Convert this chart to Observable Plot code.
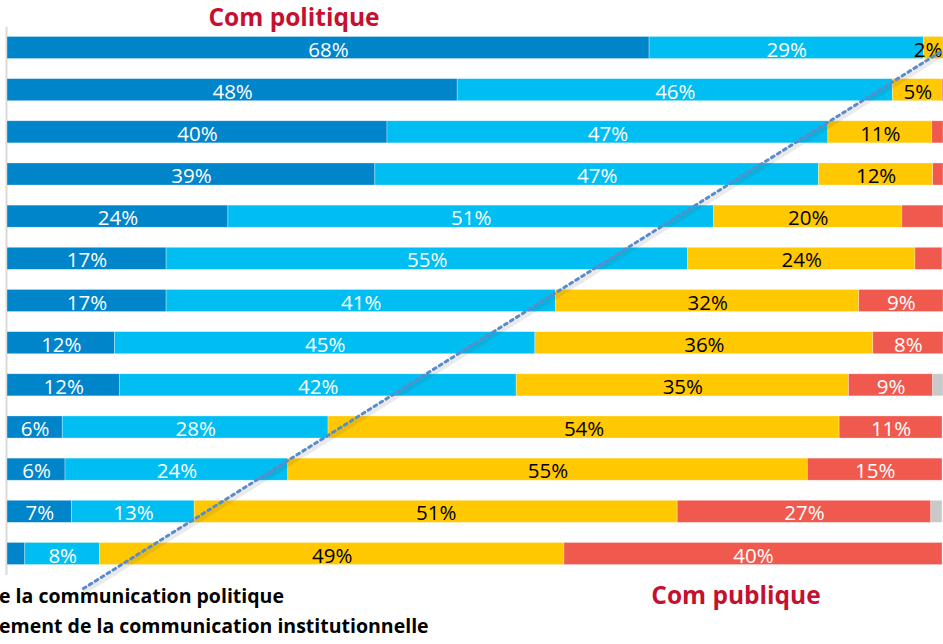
<!DOCTYPE html>
<html><head><meta charset="utf-8">
<script src="https://cdn.jsdelivr.net/npm/d3@7"></script>
<script src="https://cdn.jsdelivr.net/npm/@observablehq/plot@0.6"></script>
<style>
body{margin:0;background:#fff}
#wrap{position:relative;width:943px;height:644px;overflow:hidden;font-family:"Open Sans",Lato,sans-serif}
#chart{position:absolute;left:0;top:0}
#chart svg{overflow:hidden}
.t{position:absolute;white-space:nowrap;font-weight:bold}
.red{color:#C5102F;font-size:24.5px;line-height:24px}
.leg{color:#000;font-size:19.5px;line-height:19px}
</style></head><body>
<div id="wrap">
<div id="chart"></div>
<div class="t red" style="left:0;width:588px;top:5px;text-align:center">Com politique</div>
<div class="t red" style="left:536px;width:400px;top:583px;text-align:center">Com publique</div>
<div class="t leg" style="left:-1px;top:586px">e la communication politique</div>
<div class="t leg" style="left:-1px;top:616px">ement de la communication institutionnelle</div>
</div>
<script>
// segment colours (dark blue, light blue, yellow, red, grey)
const colors = ["#0084CA", "#00BEF2", "#FFC800", "#F05A4E", "#C9C9C9"];
const textColors = ["white", "white", "black", "white", "black"];

// values (% of each bar), rows top to bottom
const s1 = [68.6, 48.1, 40.6, 39.3, 23.6, 17.0, 17.0, 11.5, 12.0, 5.9, 6.2, 6.9, 1.9];
const s2 = [29.3, 46.5, 47.1, 47.4, 51.9, 55.7, 41.6, 44.9, 42.4, 28.4, 23.8, 13.1, 8.0];
const s3 = [2.1, 5.3, 11.1, 12.2, 20.1, 24.3, 32.4, 36.1, 35.5, 54.6, 55.5, 51.6, 49.6];
const s4 = [0, 0.1, 1.2, 1.1, 4.4, 2.9, 9.0, 7.5, 9.0, 11.0, 14.4, 27.1, 40.4];
const s5 = [0, 0, 0, 0, 0, 0.1, 0, 0, 1.1, 0, 0, 1.2, 0];

// printed labels
const l1 = ["68%","48%","40%","39%","24%","17%","17%","12%","12%","6%","6%","7%",""];
const l2 = ["29%","46%","47%","47%","51%","55%","41%","45%","42%","28%","24%","13%","8%"];
const l3 = ["2%","5%","11%","12%","20%","24%","32%","36%","35%","54%","55%","51%","49%"];
const l4 = ["","","","","","","9%","8%","9%","11%","15%","27%","40%"];
const l5 = ["","","","","","","","","","","","",""];

// dotted diagonal (x in %, y in row index)
const diagonal = [{x: 8.1, y: 12.82}, {x: 99.9, y: 0.06}];

const seriesVals = [s1, s2, s3, s4, s5];
const seriesLabels = [l1, l2, l3, l4, l5];
const segs = [];
for (let r = 0; r < s1.length; r++) {
  let acc = 0;
  for (let k = 0; k < seriesVals.length; k++) {
    const v = seriesVals[k][r];
    segs.push({row: r, x1: acc, x2: acc + v, color: colors[k], tcolor: textColors[k], label: seriesLabels[k][r]});
    acc += v;
  }
}
const half = 0.262;
const labelled = segs.filter(d => d.label);
const wide = labelled.filter(d => d.x2 - d.x1 >= 3);
const narrow = labelled.filter(d => d.x2 - d.x1 < 3);
const font = "'Open Sans', Lato, sans-serif";

const chart = Plot.plot({
  width: 943, height: 644, margin: 0,
  x: {domain: [0, 100], range: [7, 943], axis: null},
  y: {domain: [0, 12], range: [47.5, 553.5], axis: null},
  style: {background: "transparent", overflow: "hidden"},
  marks: [
    Plot.ruleX([0], {y1: -0.49, y2: 12.51, stroke: "#d9d9d9", strokeWidth: 2, dx: -1}),
    Plot.rect(segs.filter(d => d.x2 > d.x1), {x1: "x1", x2: "x2", y1: d => d.row - half, y2: d => d.row + half, fill: "color", stroke: "white", strokeWidth: 0.7, strokeOpacity: 0.45}),
    Plot.text(wide, {x: d => (d.x1 + d.x2) / 2, y: "row", text: "label", fill: "tcolor", fontSize: 20.5, fontFamily: font, dy: 2}),
    Plot.text(narrow, {x: "x2", y: "row", text: "label", fill: "tcolor", fontSize: 20.5, fontFamily: font, dy: 2, dx: -1, textAnchor: "end"}),
    Plot.line(diagonal, {x: "x", y: "y", stroke: "#555", strokeOpacity: 0.12, strokeWidth: 5, dx: 2, dy: 2.5}),
    Plot.line(diagonal, {x: "x", y: "y", stroke: "#5A8CCB", strokeWidth: 3, strokeDasharray: "3,4"})
  ]
});
document.getElementById("chart").appendChild(chart);
</script>
</body></html>
